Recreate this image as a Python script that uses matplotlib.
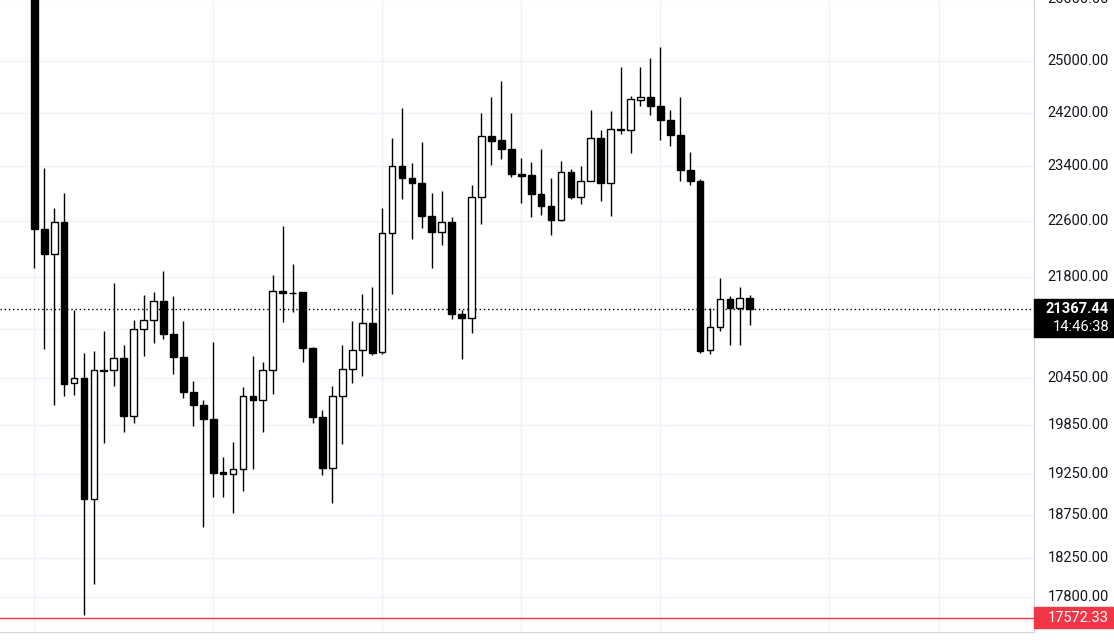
import matplotlib

matplotlib.use("Agg")
import matplotlib.pyplot as plt  # noqa: E402
import matplotlib.transforms as mtransforms  # noqa: E402
import numpy as np  # noqa: E402

# OHLC, oldest first
opens = [27000, 22472, 22125, 22572, 20387, 20451, 18945, 20550, 20557, 20714,
         19971, 21099, 21222, 21477, 21029, 20725, 20270, 20102, 19926, 19272,
         19243, 19302, 20217, 20170, 20557, 21616, 21582, 21594, 20843, 19950,
         19318, 20217, 20568, 20822, 21183, 20795, 22425, 23392, 23210, 23150,
         22667, 22437, 22572, 21300, 21248, 22946, 23841, 23780, 23643, 23283,
         23259, 22976, 22814, 22613, 23302, 22946, 23168, 23811, 23138, 23948,
         23929, 24394, 24438, 24299, 24085, 23855, 23334, 23180, 20822, 21127,
         21510, 21381, 21521]
highs = [27300, 23369, 22785, 23002, 21359, 20784, 20811, 21078, 21718, 20892,
         21222, 21555, 21605, 21884, 21538, 21211, 20414, 20170, 20919, 19453,
         19642, 20339, 20746, 20665, 21827, 22519, 21980, 21605, 20859, 20044,
         20355, 20892, 21200, 21577, 21673, 22779, 23806, 24274, 23441, 23755,
         23002, 23020, 22655, 21348, 23114, 24198, 24445, 24681, 24198, 23516,
         23453, 23649, 23217, 23472, 23350, 23397, 24242, 23935, 24230, 24915,
         24457, 24903, 25056, 25219, 24242, 24445, 23605, 23198, 21376, 21798,
         21543, 21673, 21555]
lows = [21924, 20838, 20108, 20222, 20238, 17607, 17949, 19627, 20345, 19770,
        19883, 20741, 20908, 20962, 20504, 20196, 19847, 18610, 18973, 18973,
        18781, 19042, 19302, 19760, 20243, 21194, 21325, 20660, 19873, 19237,
        18900, 19611, 20387, 20478, 20751, 20768, 21577, 22910, 22333, 22490,
        21924, 22251, 21236, 20703, 21043, 22543, 23409, 23504, 23235, 22850,
        22649, 22678, 22392, 22590, 22916, 22844, 23168, 22874, 22667, 23867,
        23591, 24299, 24161, 23780, 23686, 23174, 23120, 20778, 20762, 21071,
        20881, 20881, 21149]
closes = [22484, 22125, 22572, 20382, 20451, 18945, 20552, 20557, 20714, 19971,
          21099, 21222, 21477, 21029, 20725, 20270, 20102, 19926, 19262, 19243,
          19302, 20217, 20170, 20557, 21616, 21582, 21590, 20843, 19950, 19318,
          20217, 20568, 20822, 21183, 20784, 22425, 23392, 23210, 23150, 22667,
          22437, 22572, 21297, 21242, 22946, 23841, 23761, 23643, 23283, 23253,
          22976, 22814, 22613, 23302, 22946, 23168, 23811, 23138, 23948, 23929,
          24413, 24438, 24299, 24079, 23855, 23328, 23180, 20811, 21127, 21510,
          21381, 21521, 21367.44]

price_ticks = [26000, 25000, 24200, 23400, 22600, 21800, 21100, 20450, 19850,
               19250, 18750, 18250, 17800]
time_grid = [0, 18, 35, 49, 63, 80, 91]
last_price = 21367.44
countdown = "14:46:38"
low_mark = 17572.33

W, H = 1114, 642
fig = plt.figure(figsize=(W / 100, H / 100), dpi=100)
ax = fig.add_axes([0, 10 / H, 1034 / W, 632 / H])
plt.rcParams["font.family"] = ["Roboto", "DejaVu Sans"]

grid_c = "#f0f3fa"
x = np.arange(len(opens))
o, h, l, c = map(np.asarray, (opens, highs, lows, closes))
up = c >= o

ax.vlines(x, l, h, color="black", linewidth=1, zorder=2)
body_lo = np.minimum(o, c)
body_h = np.maximum(np.abs(c - o), body_lo * 0.0004)
ax.bar(x[up], body_h[up], bottom=body_lo[up], width=0.68, color="white",
       edgecolor="black", linewidth=1, zorder=3)
ax.bar(x[~up], body_h[~up], bottom=body_lo[~up], width=0.68, color="black",
       edgecolor="black", linewidth=1, zorder=3)

ax.set_yscale("log")
ax.set_ylim(17413, 25989)
ax.set_xlim(-3.45, 100.6)
ax.set_xticks([])
ax.set_yticks([])
ax.minorticks_off()
for p in price_ticks:
    ax.axhline(p, color=grid_c, linewidth=1, zorder=0)
for t in time_grid:
    ax.axvline(t, color=grid_c, linewidth=1, zorder=0)

ax.axhline(last_price, color="black", linewidth=1, linestyle=(0, (1, 2)), zorder=1)
ax.axhline(low_mark, color="#f23645", linewidth=1, zorder=1)

for side in ("top", "left"):
    ax.spines[side].set_visible(False)
for side in ("right", "bottom"):
    ax.spines[side].set_color("#d1d4dc")

trans = mtransforms.blended_transform_factory(fig.transFigure, ax.transData)
for p in price_ticks:
    if p == 21100:
        continue
    ax.text(1109 / W, p, f"{p:.2f}", transform=trans, ha="right", va="center",
            fontsize=10.5, color="#131722", clip_on=False)

# current price / low price labels on the axis
fig.patches.append(plt.Rectangle((1034 / W, (H - 337) / H), 80 / W, 38 / H,
                                 transform=fig.transFigure, color="black"))
fig.text(1109 / W, (H - 309) / H, f"{last_price:.2f}", ha="right", va="center",
         fontsize=10.5, color="white", weight="bold")
fig.text(1109 / W, (H - 327) / H, countdown, ha="right", va="center",
         fontsize=10.5, color="white")
fig.patches.append(plt.Rectangle((1034 / W, (H - 628) / H), 80 / W, 21 / H,
                                 transform=fig.transFigure, color="#f23645"))
fig.text(1109 / W, (H - 618) / H, f"{low_mark:.2f}", ha="right", va="center",
         fontsize=10.5, color="white")

fig.savefig("out.png", dpi=100)
plt.close(fig)
